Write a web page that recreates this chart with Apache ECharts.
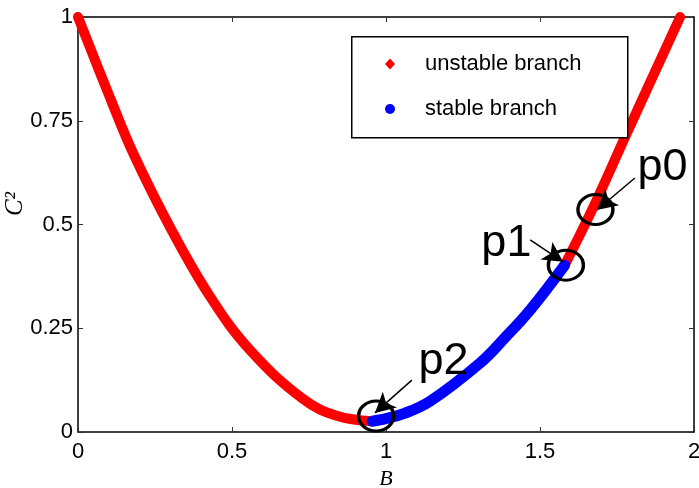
<!DOCTYPE html>
<html><head><meta charset="utf-8">
<script src="https://cdn.jsdelivr.net/npm/echarts@6/dist/echarts.min.js"></script>
<style>html,body{margin:0;padding:0;background:#fff}#c{width:699px;height:488px}</style>
</head><body><div id="c"></div>
<script>
// ---- data ----
const xTicks = [0, 0.5, 1, 1.5, 2];
const yTicks = [0, 0.25, 0.5, 0.75, 1];
const unstableLeft = [[0, 1.0], [0.107, 0.80], [0.179, 0.672], [0.30, 0.492], [0.43, 0.325], [0.558, 0.198], [0.73, 0.08], [0.84, 0.039], [0.955, 0.026]];
const stableBranch = [[0.955, 0.026], [0.98, 0.029], [1.06, 0.045], [1.143, 0.074], [1.305, 0.166], [1.386, 0.227], [1.468, 0.294], [1.58, 0.402]];
const unstableRight = [[1.58, 0.402], [1.672, 0.54], [1.782, 0.72], [1.955, 1.0]];
const pointNames = ['p0', 'p1', 'p2'];
const ellipseCenters = [[1.680, 0.536], [1.584, 0.402], [0.968, 0.0386]];
const arrowFrom = [[1.808, 0.612], [1.468, 0.463], [1.084, 0.125]];
const arrowTo = [[1.685, 0.535], [1.575, 0.41], [0.964, 0.046]];
const labelAt = [[1.815, 0.638], [1.308, 0.455], [1.104, 0.170]];

const FONT = "'Liberation Sans',Arial,sans-serif";
const SERIF = "'Liberation Serif','Times New Roman',serif";

const chart = echarts.init(document.getElementById('c'), null, {renderer: 'canvas'});
const fmt = v => String(v);
const axisLine = {show: true, onZero: false, lineStyle: {color: '#000', width: 1.5}};
const tick = {show: true, inside: true, length: 5, lineStyle: {color: '#333', width: 1}};

const ellipsePath = 'path://M0,50 A50,50 0 1,1 100,50 A50,50 0 1,1 0,50 Z';

const markPts = [];
pointNames.forEach((n, i) => {
  markPts.push({name: n + 'e', coord: ellipseCenters[i], symbol: ellipsePath, symbolSize: [35, 30],
    itemStyle: {color: 'rgba(0,0,0,0)', borderColor: '#000', borderWidth: 3.2}, label: {show: false}});
  markPts.push({name: n, coord: labelAt[i], symbol: 'rect', symbolSize: 1,
    itemStyle: {color: 'rgba(0,0,0,0)'},
    label: {show: true, position: 'right', distance: 0, formatter: n, fontSize: 45, color: '#000', fontFamily: FONT}});
});
const markLns = pointNames.map((n, i) => [
  {coord: arrowFrom[i], symbol: 'none'},
  {coord: arrowTo[i], symbol: 'arrow', symbolSize: [16, 20]}
]);

const lineCommon = {type: 'line', showSymbol: false, smooth: 0.4};

const option = {
  animation: false,
  backgroundColor: '#fff',
  grid: {left: 78, right: 5, top: 17, bottom: 56, containLabel: false, outerBoundsMode: 'none'},
  xAxis: [
    {type: 'value', position: 'bottom', min: 0, max: 2, interval: 0.5, axisLine, axisTick: tick,
     splitLine: {show: false},
     axisLabel: {formatter: fmt, fontSize: 22, color: '#000', fontFamily: FONT, margin: 9},
     name: 'B', nameLocation: 'middle', nameGap: 36,
     nameTextStyle: {fontFamily: SERIF, fontStyle: 'italic', fontSize: 22, color: '#000'}},
    {type: 'value', position: 'top', min: 0, max: 2, interval: 0.5, axisLine, axisTick: tick,
     splitLine: {show: false}, axisLabel: {show: false}}
  ],
  yAxis: [
    {type: 'value', position: 'left', min: 0, max: 1, interval: 0.25, axisLine, axisTick: tick,
     splitLine: {show: false},
     axisLabel: {formatter: fmt, fontSize: 22, color: '#000', fontFamily: FONT, margin: 5}},
    {type: 'value', position: 'right', min: 0, max: 1, interval: 0.25, axisLine, axisTick: tick,
     splitLine: {show: false}, axisLabel: {show: false}}
  ],
  legend: {
    left: 380, top: 44, orient: 'vertical', itemWidth: 10, itemHeight: 11, itemGap: 15, z: 20,
    selectedMode: false,
    textStyle: {fontSize: 22, lineHeight: 30, color: '#000', fontFamily: FONT, padding: [0, 0, 0, 25]},
    data: [
      {name: 'unstable branch', icon: 'diamond', itemStyle: {color: '#ff0000'}},
      {name: 'stable branch', icon: 'circle', itemStyle: {color: '#0000ff'}}
    ]
  },
  graphic: [
    {type: 'rect', z: 15, left: 351, top: 36,
     shape: {width: 276, height: 101},
     style: {fill: '#fff', stroke: '#000', lineWidth: 1.5}},
    {type: 'text', z: 15, x: 15, y: 204, rotation: Math.PI / 2,
     style: {text: 'C\u00B2', font: 'italic 25px ' + SERIF, fill: '#000', align: 'center', verticalAlign: 'middle'}}
  ],
  series: [
    Object.assign({name: 'unstable branch', data: unstableLeft, z: 2,
     lineStyle: {color: '#ff0000', width: 10, cap: 'round'}, itemStyle: {color: '#ff0000'}}, lineCommon),
    Object.assign({name: 'unstable branch', data: unstableRight, z: 2,
     lineStyle: {color: '#ff0000', width: 10, cap: 'round'}, itemStyle: {color: '#ff0000'}}, lineCommon),
    Object.assign({name: 'stable branch', data: stableBranch, z: 3,
     lineStyle: {color: '#0000ff', width: 11, cap: 'round'}, itemStyle: {color: '#0000ff'},
     markPoint: {silent: true, data: markPts, z: 10},
     markLine: {silent: true, data: markLns, label: {show: false},
       lineStyle: {color: '#000', width: 1.5, type: 'solid'}, z: 10}}, lineCommon)
  ]
};
chart.setOption(option);
</script>
</body></html>
